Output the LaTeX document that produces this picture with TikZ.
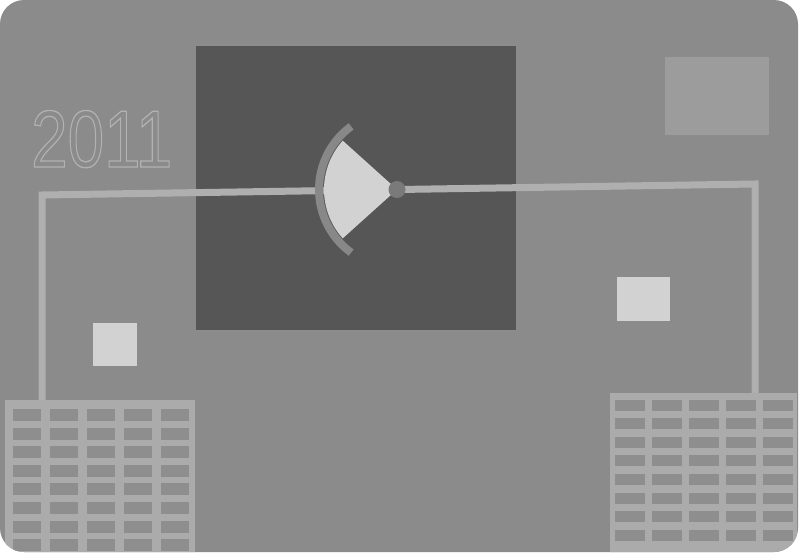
\documentclass[tikz,border=0pt]{standalone}
\usepackage{fontspec}
\setsansfont{Liberation Sans}
\usetikzlibrary{calc}
\definecolor{Board}{HTML}{8B8B8B}
\definecolor{Screen}{HTML}{565656}
\definecolor{Wire}{HTML}{AFAFAF}
\definecolor{Pale}{HTML}{D2D2D2}
\definecolor{Patch}{HTML}{9C9C9C}
\definecolor{Cell}{HTML}{8E8E8E}
\definecolor{Frame}{HTML}{ABABAB}
\definecolor{Rim}{HTML}{888888}
\definecolor{Hub}{HTML}{7A7A7A}

\begin{document}
\begin{tikzpicture}[x=1pt,y=-1pt]
      \useasboundingbox (0,0) rectangle (801,554);
      \fill[white] (0,0) rectangle (801,554);
      \fill[Board,rounded corners=24pt] (0,0) rectangle (798,552);
      \fill[Screen] (196,46) rectangle (516,330);
      \fill[Patch] (665,57) rectangle (769,135);
      \fill[Pale] (93,323) rectangle (137,366);
      \fill[Pale] (617,277) rectangle (670,321);
      \node[anchor=south west,inner sep=0pt,xscale=.81,font=\sffamily\fontsize{81}{81}\selectfont] (year) at (31,168)
        {\special{pdf:code 1 Tr 1.3 w 0.70 G}2011\special{pdf:code 0 Tr}};
      % solar panels
      \begin{scope}
        \clip[rounded corners=24pt] (0,0) rectangle (798,552);
        \fill[Frame] (5,400) rectangle (195,560);
        \foreach \i in {0,...,4}
          \foreach \j in {0,...,7}
            \fill[Cell] ({13+\i*37},{409+\j*18.6}) rectangle +(28,12);
        \fill[Frame] (610,393) rectangle (797,560);
        \foreach \i in {0,...,4}
          \foreach \j in {0,...,7}
            \fill[Cell] ({615+\i*37},{399.5+\j*18.6}) rectangle +(30,11);
      \end{scope}
      % wiring
      \coordinate (pivot) at (397,189.5);
      \coordinate (lbend) at (42,195);
      \coordinate (rbend) at (755,184);
      \coordinate (lpanel) at (42,400);
      \coordinate (rpanel) at (755,393);
      \draw[Wire,line width=7pt,line join=miter] (lpanel) -- (lbend) -- (rbend) -- (rpanel);
      % fan
      \draw[Rim,line width=8pt] ($(pivot)+(126:78)$) arc[start angle=126,end angle=234,radius=78];
      \fill[Pale] (pivot) -- ++(138:73) arc[start angle=138,end angle=222,radius=73] -- cycle;
      \fill[Hub] (pivot) circle[radius=8.5];
    \end{tikzpicture}
\end{document}
